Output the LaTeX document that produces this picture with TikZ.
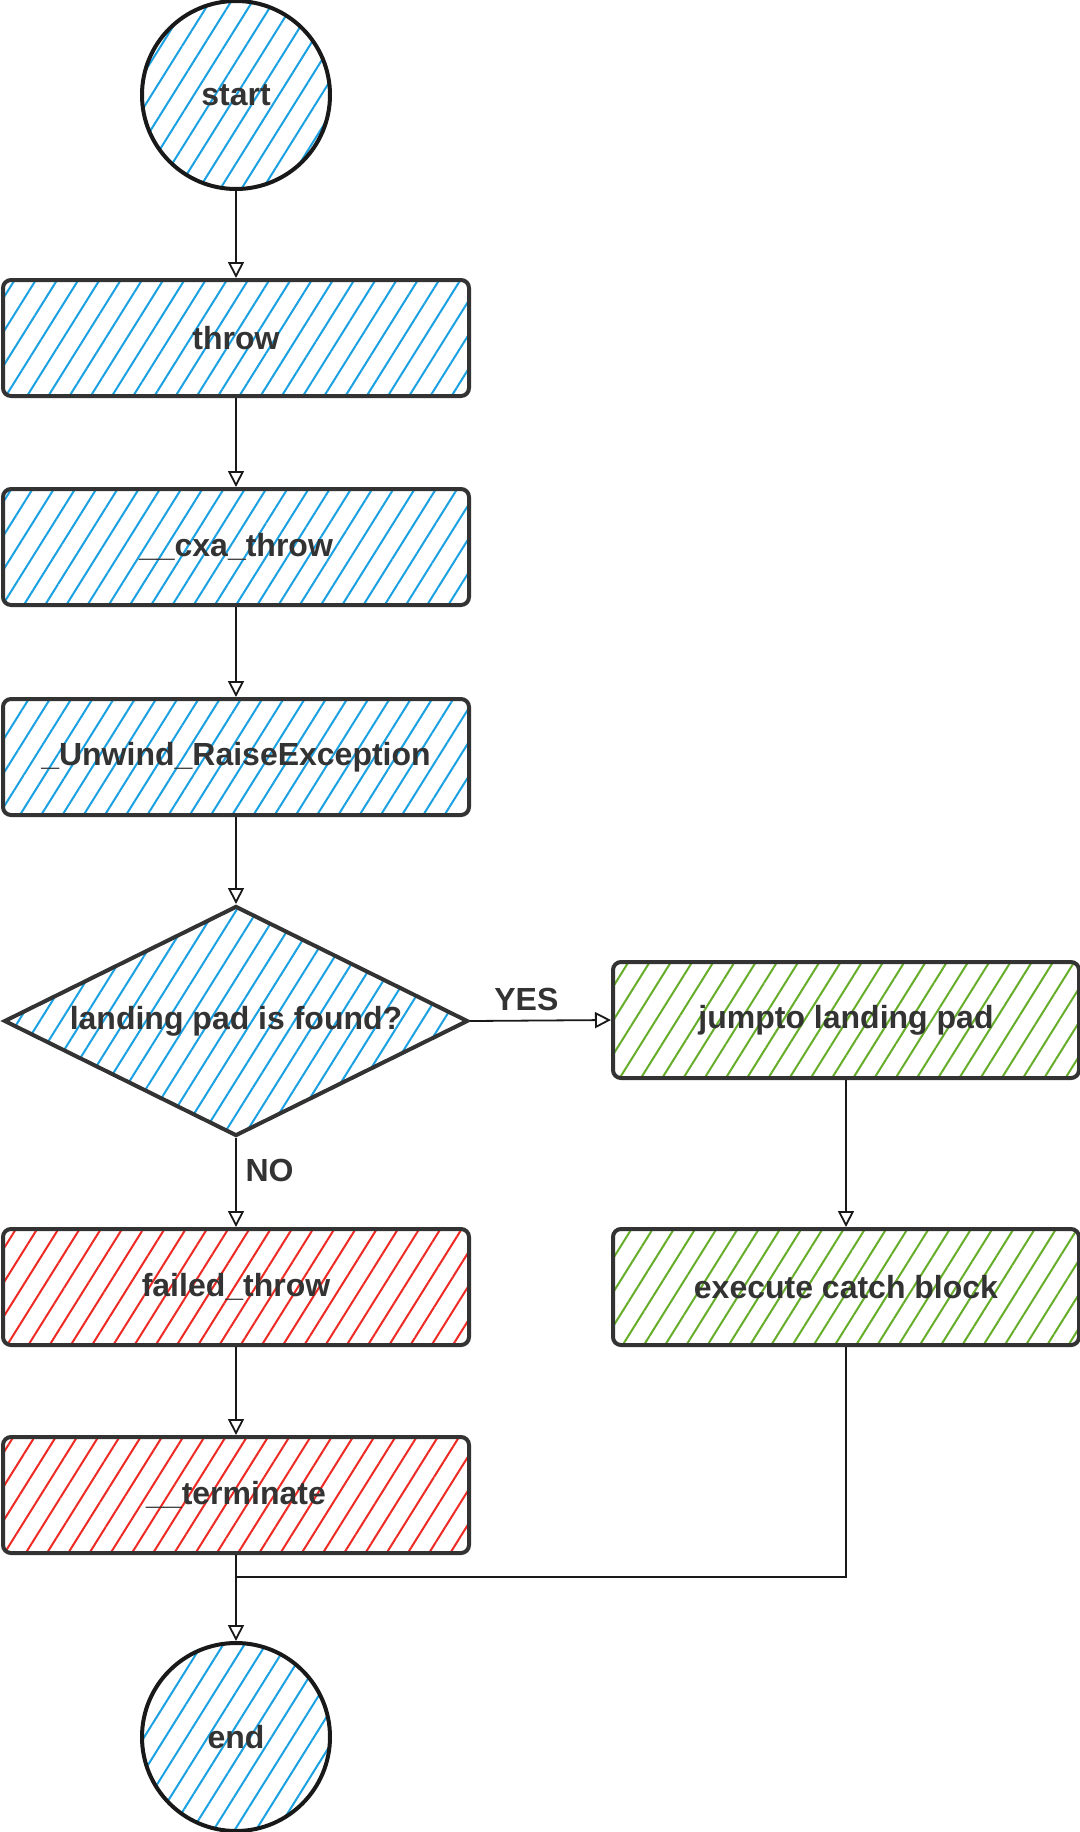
\documentclass[tikz,border=0pt]{standalone}
\usepackage{fontspec}
\setmainfont{Liberation Sans}
\usetikzlibrary{shapes.geometric, arrows.meta, patterns.meta}
\definecolor{ink}{HTML}{333333}
\definecolor{hblue}{HTML}{1BA1E2}
\definecolor{hred}{HTML}{EE2A24}
\definecolor{hgreen}{HTML}{66AD2A}
\newcommand{\lblfont}{\bfseries\fontsize{16}{19}\selectfont}
\tikzset{
  hatch/.style={pattern={Lines[angle=58, distance=9pt, line width=1pt]}, pattern color=#1},
  proc/.style={rectangle, draw=ink, line width=2pt, rounded corners=4pt,
    minimum width=233pt, minimum height=58pt, inner sep=0pt,
    font=\lblfont, text=ink, hatch=#1},
  term/.style={circle, draw=black!90, line width=2pt, minimum size=94pt,
    inner sep=0pt, font=\lblfont, text=ink, hatch=hblue},
  dec/.style={diamond, draw=ink, line width=2pt, shape aspect=2,
    minimum width=232pt, minimum height=115pt, inner sep=0pt,
    font=\lblfont, text=ink, hatch=hblue},
  conn/.style={draw=black!90, line width=0.9pt,
    -{Triangle[open, length=8pt, width=8pt, line width=0.9pt]}},
  plain/.style={draw=black!90, line width=0.9pt},
  lab/.style={font=\lblfont, text=ink}
}
\begin{document}
\begin{tikzpicture}[x=0.5pt, y=-0.5pt]
\useasboundingbox (0,0) rectangle (1080,1832);

\node[term] (start) at (236,95) {start};
\node[proc=hblue] (throw) at (236,338) {throw};
\node[proc=hblue] (cxa) at (236,547) {\_\_cxa\_throw};
\node[proc=hblue] (unwind) at (236,757) {\_Unwind\_RaiseException};
\node[dec] (found) at (236,1021) {landing pad is found?};
\node[proc=hgreen] (jump) at (846,1020) {jumpto landing pad};
\node[proc=hgreen] (exec) at (846,1287) {execute catch block};
\node[proc=hred] (failed) at (236,1287) {failed\_throw};
\node[proc=hred] (termin) at (236,1495) {\_\_terminate};
\node[term] (endn) at (236,1737) {end};
\coordinate (j) at (236,1577);

\draw[conn] (start) -- (throw);
\draw[conn] (throw) -- (cxa);
\draw[conn] (cxa) -- (unwind);
\draw[conn] (unwind) -- (found);
\draw[conn] (found.east) -- node[lab, pos=0.4, above=1pt] {YES} (jump.west);
\draw[conn] (found.south) -- node[lab, pos=0.37, right=1pt] {NO} (failed.north);
\draw[conn] (jump) -- (exec);
\draw[conn] (failed) -- (termin);
\draw[conn] (termin) -- (endn);
\draw[plain] (exec.south) |- (j);
\end{tikzpicture}
\end{document}
